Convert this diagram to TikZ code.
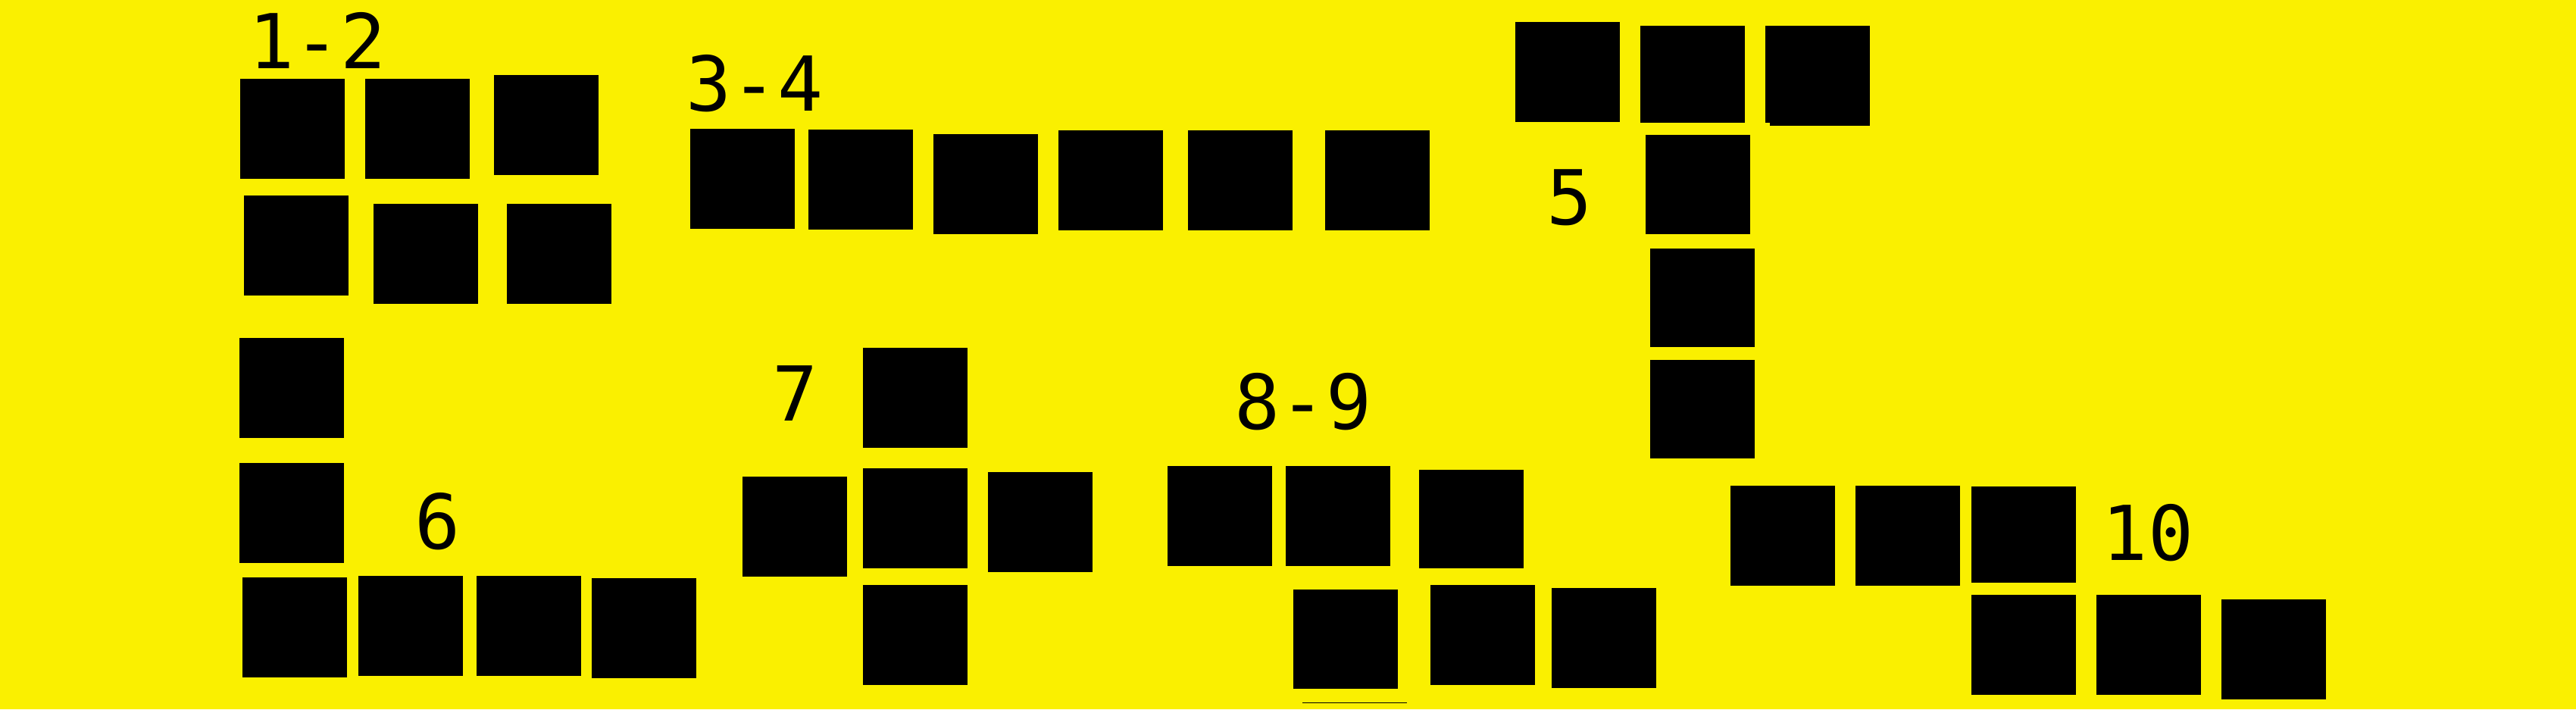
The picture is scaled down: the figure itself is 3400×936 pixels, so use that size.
\documentclass[tikz,border=0pt]{standalone}
\usepackage{fontspec}
\setmonofont{DejaVu Sans Mono}
\usepackage{tikz}
\definecolor{cardyellow}{RGB}{250,240,0}

\begin{document}
\begin{tikzpicture}[x=0.01cm,y=-0.01cm,
    card/.style={fill=black,inner sep=0,minimum width=1.38cm,minimum height=1.32cm},
    tag/.style={font=\ttfamily\fontsize{28.4}{34}\selectfont,inner sep=0,anchor=base}]
    \fill[cardyellow] (0,0) rectangle (3400,936);
    \useasboundingbox (0,0) rectangle (3400,936);
    % group 1-2
    \node[tag] (t12) at (419,90) {1-2};
    \foreach \nm/\x/\y in {a/386/170, b/551/170, c/721/165, d/391/324, e/562/335, f/738/335}
      \node[card] (g12\nm) at (\x,\y) {};
    % group 3-4
    \node[tag] (t34) at (996,146) {3-4};
    \foreach \nm/\x/\y in {a/980/236, b/1136/237, c/1301/243, d/1466/238, e/1637/238, f/1818/238}
      \node[card] (g34\nm) at (\x,\y) {};
    % group 5
    \node[tag] (t5) at (2072,296) {5};
    \foreach \nm/\x/\y/\h in {a/2069/95/1.32, b/2234/98/1.28, c/2399/98/1.28,
                             d/2241/243.5/1.31, e/2247/393/1.30, f/2247/540/1.30}
      \node[card,minimum height=\h*1cm] (g5\nm) at (\x,\y) {};
    \fill (2336,150) rectangle (2468,166); % stub under the third card
    % group 6
    \node[tag] (t6) at (578,724) {6};
    \foreach \nm/\x/\y in {a/385/512, b/385/677, c/389/828, d/542/826, e/698/826, f/850/829}
      \node[card] (g6\nm) at (\x,\y) {};
    % group 7
    \node[tag] (t7) at (1050,555) {7};
    \foreach \nm/\x/\y in {a/1208/525, b/1049/695, c/1208/684, d/1373/689, e/1208/838}
      \node[card] (g7\nm) at (\x,\y) {};
    % group 8-9
    \node[tag] (t89) at (1720,566) {8-9};
    \foreach \nm/\x/\y/\h in {a/1610/681/1.32, b/1766/681/1.32, c/1942/685/1.30,
                             d/1776/843.5/1.31, e/1957/838/1.32, f/2117/842/1.32}
      \node[card,minimum height=\h*1cm] (g89\nm) at (\x,\y) {};
    \draw[line width=0.012cm] (1719,927.5) -- (1857,927.5);
    % group 10
    \node[tag] (t10) at (2835,739) {10};
    \foreach \nm/\x/\y/\h in {a/2353/707/1.32, b/2518/707/1.32, c/2671/705.5/1.27,
                             d/2671/851/1.32, e/2836/851/1.32, f/3001/857/1.32}
      \node[card,minimum height=\h*1cm] (g10\nm) at (\x,\y) {};
\end{tikzpicture}
\end{document}
